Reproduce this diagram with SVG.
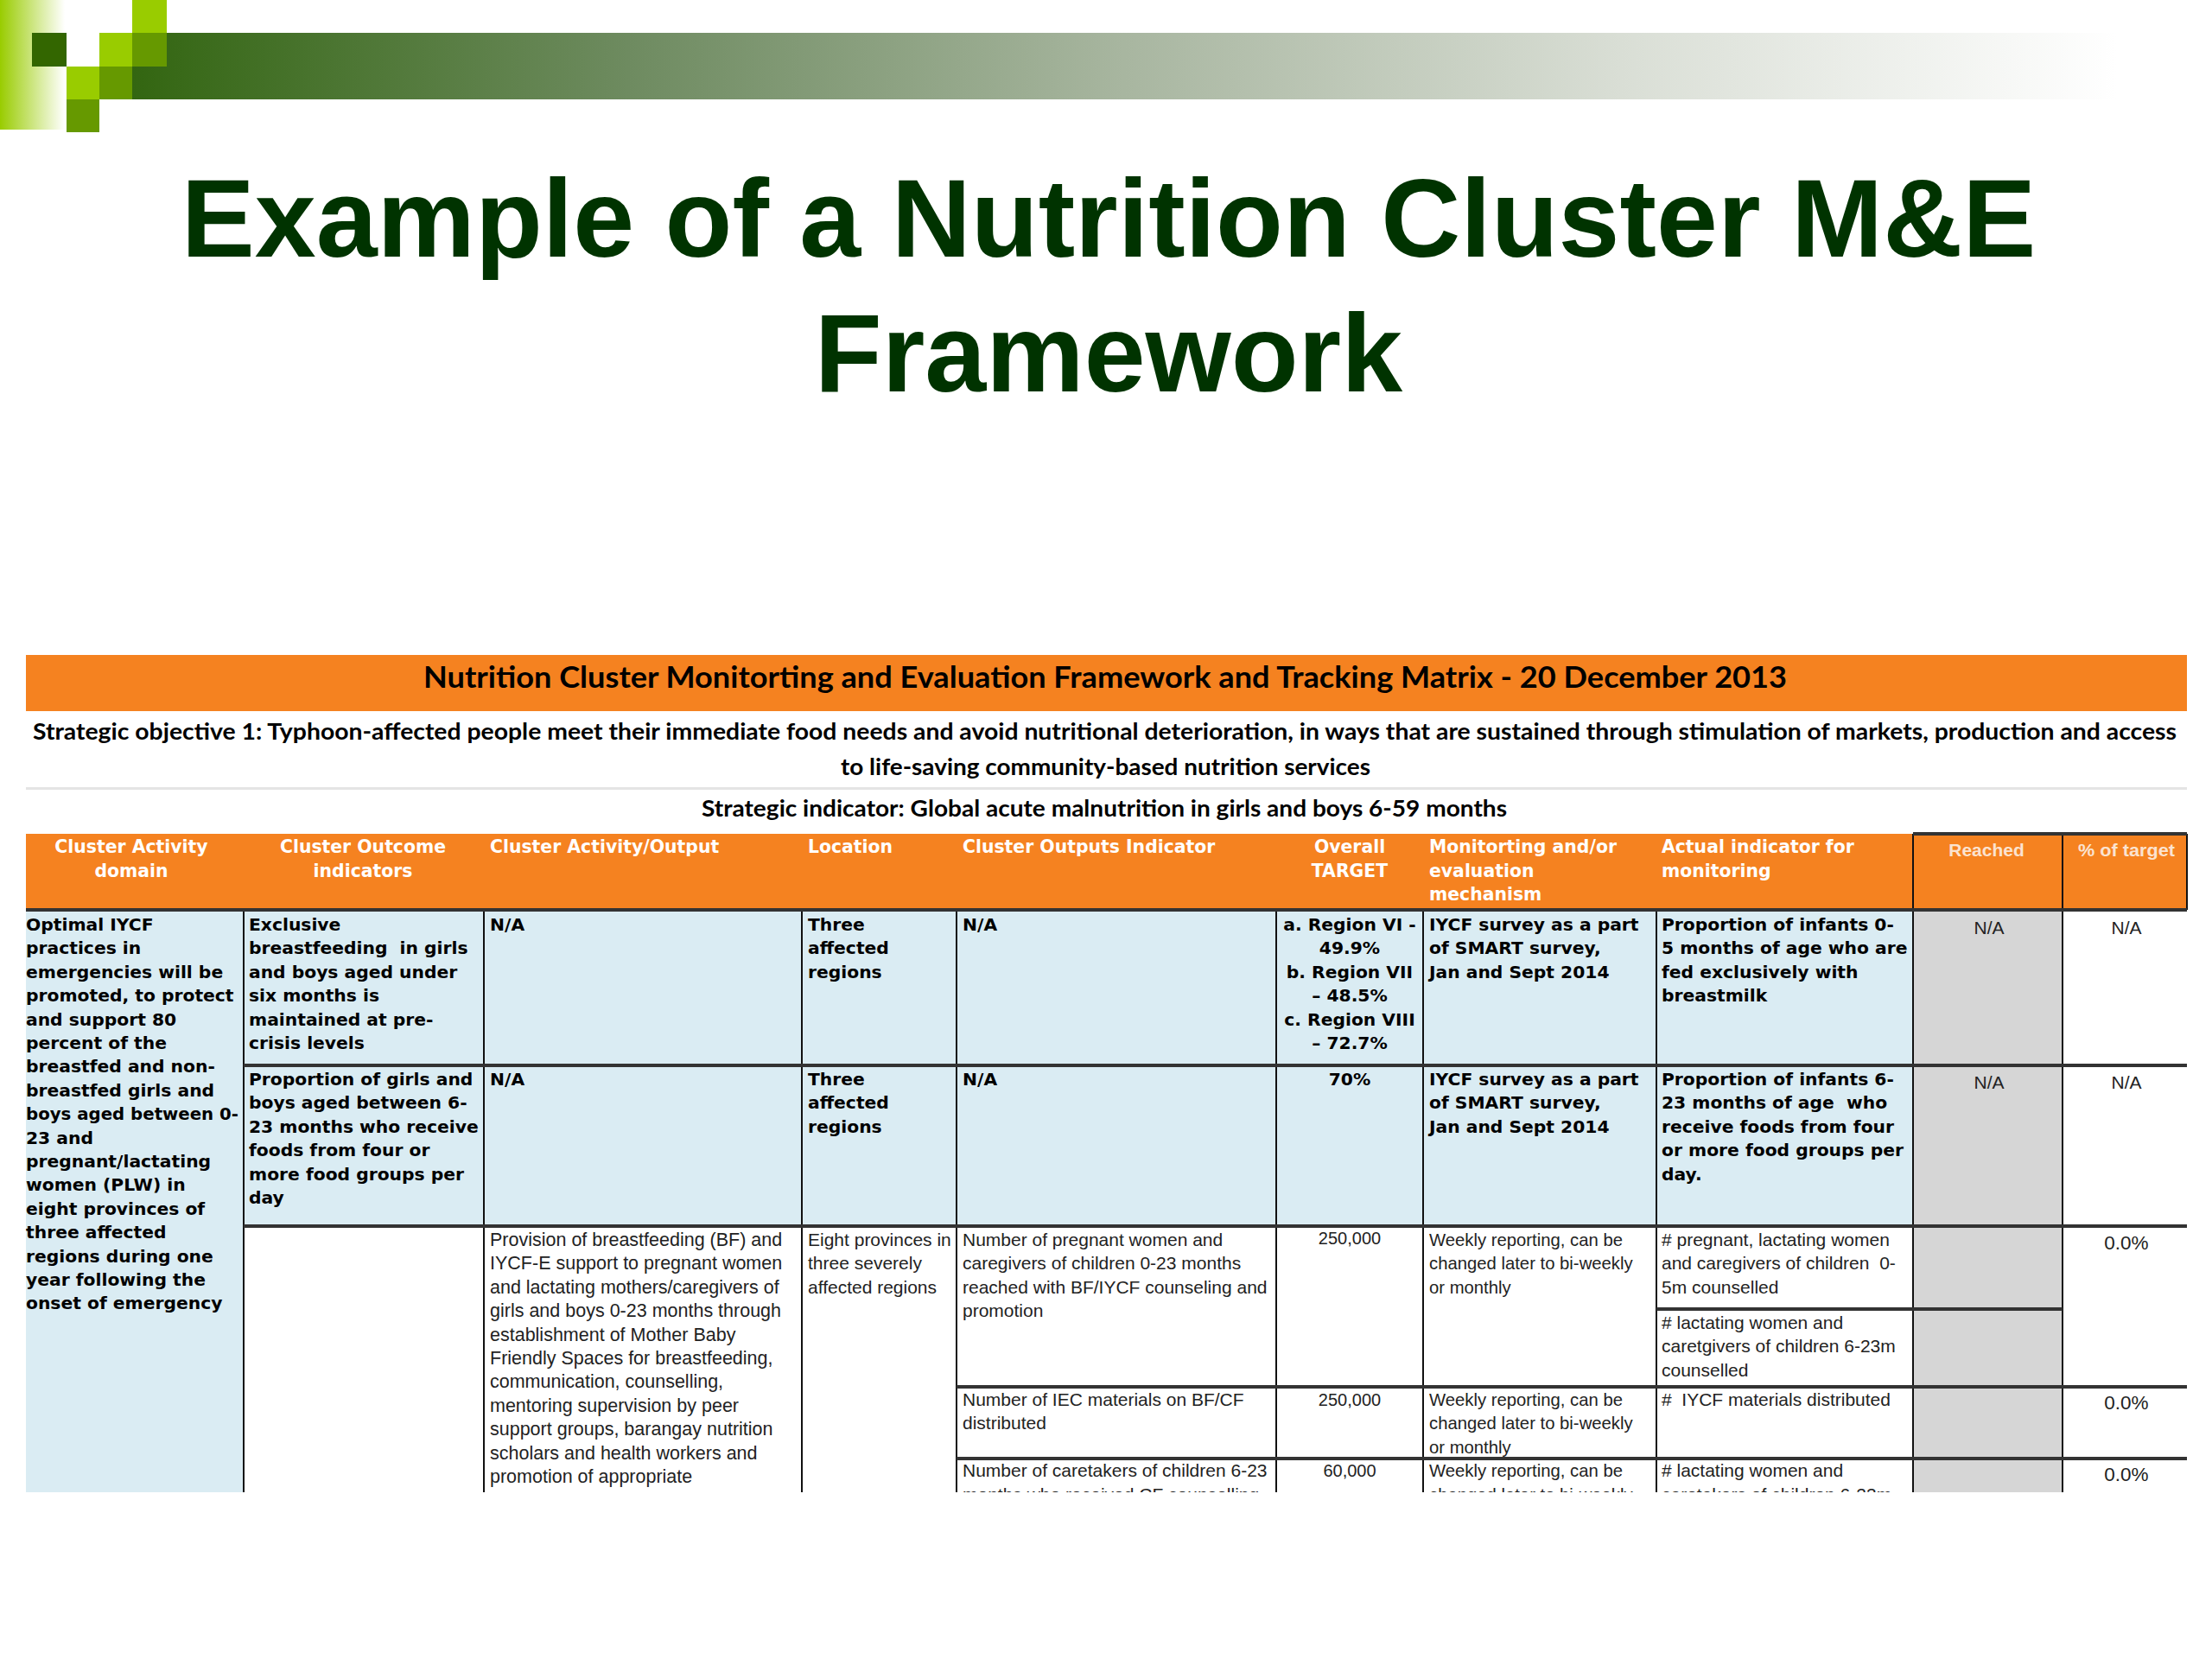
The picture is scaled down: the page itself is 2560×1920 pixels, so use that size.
<svg xmlns="http://www.w3.org/2000/svg" width="2560" height="1920" viewBox="0 0 2560 1920">
<style>
text{font-family:"Liberation Sans",Arial,sans-serif;fill:#000}
.t{font-size:127.5px;font-weight:700;fill:#003300;text-anchor:middle}
.c{font-family:Lato,"Liberation Sans",sans-serif;font-weight:700}
.h{font-family:"DejaVu Sans",sans-serif;font-size:20.4px;font-weight:700;fill:#fff}
.s{font-size:21px;font-weight:700;fill:#fbe3d0;text-anchor:middle}
.m{text-anchor:middle}
.b{font-family:"DejaVu Sans",sans-serif;font-size:20.3px;font-weight:700}
.r{font-size:21px;fill:#222}
.p{font-size:21.5px}
.w{font-size:20.3px}
.n{font-size:20px}
.z{font-size:22.5px}
.k{stroke:#111;stroke-width:2;fill:none}
.g{stroke:#333;stroke-width:4;fill:none}
</style>
<defs>
<linearGradient id="band" x1="153" x2="2450" y1="0" y2="0" gradientUnits="userSpaceOnUse"><stop offset="0" stop-color="#336611"/><stop offset=".25" stop-color="#6e8b60"/><stop offset=".5" stop-color="#a8b6a0"/><stop offset=".75" stop-color="#d9ded5"/><stop offset="1" stop-color="#fff"/></linearGradient>
<linearGradient id="side"><stop offset="0" stop-color="#99cc00"/><stop offset="1" stop-color="#fff"/></linearGradient>
<clipPath id="c"><rect x="0" y="1040" width="2560" height="687"/></clipPath>
</defs>
<rect width="2560" height="1920" fill="#fff"/>
<g id="decor">
<rect x="0" y="0" width="75" height="150" fill="url(#side)"/>
<rect x="153" y="38" width="2347" height="77" fill="url(#band)"/>
<rect x="37" y="38" width="40" height="39" fill="#336600"/>
<rect x="153" y="0" width="40" height="38" fill="#99cc00"/>
<rect x="115" y="38" width="38" height="39" fill="#99cc00"/>
<rect x="153" y="38" width="40" height="39" fill="#669900"/>
<rect x="77" y="77" width="38" height="38" fill="#99cc00"/>
<rect x="115" y="77" width="38" height="38" fill="#669900"/>
<rect x="77" y="115" width="38" height="38" fill="#669900"/>
</g>
<g id="title">
<text class="t" x="1283" y="297">Example of a Nutrition Cluster M&amp;E</text>
<text class="t" x="1283" y="453">Framework</text>
</g>
<g id="fills">
<rect x="30" y="758" width="2501" height="65" fill="#f58220"/>
<rect x="30" y="965" width="2501" height="88" fill="#f58220"/>
<rect x="30" y="1053" width="252" height="674" fill="#daecf3"/>
<rect x="282" y="1053" width="1932" height="366" fill="#daecf3"/>
<rect x="2214" y="1053" width="173" height="674" fill="#d6d6d6"/>
<rect x="30" y="911" width="2501" height="3" fill="#e4e4e4"/>
</g>
<g id="grid">
<path class="k" d="M282 1053V1727M560 1053V1727M928 1053V1727M1107 1053V1727M1477 1053V1727M1647 1053V1727M1917 1053V1727M2214 965V1727M2387 965V1727M2531 965V1053"/>
<path class="g" d="M2214 965H2531"/>
<path class="g" d="M30 1053H2531"/>
<path class="g" d="M282 1233H2531M282 1419H2531M1917 1515H2387M1107 1605H2531M1107 1688H2531"/>
</g>
<g id="banner-text">
<text class="c" x="490" y="796" font-size="34" textLength="1578" lengthAdjust="spacingAndGlyphs">Nutrition Cluster Monitorting and Evaluation Framework and Tracking Matrix - 20 December 2013</text>
<text class="c" x="38" y="856" font-size="27" textLength="2481" lengthAdjust="spacingAndGlyphs">Strategic objective 1: Typhoon-affected people meet their immediate food needs and avoid nutritional deterioration, in ways that are sustained through stimulation of markets, production and access</text>
<text class="c" x="973" y="897" font-size="27" textLength="613" lengthAdjust="spacingAndGlyphs">to life-saving community-based nutrition services</text>
<text class="c" x="812" y="945" font-size="27" textLength="932" lengthAdjust="spacingAndGlyphs">Strategic indicator: Global acute malnutrition in girls and boys 6-59 months</text>
</g>
<g id="header-text">
<text class="h m" x="152" y="987">Cluster Activity</text><text class="h m" x="152" y="1015">domain</text>
<text class="h m" x="420" y="987">Cluster Outcome</text><text class="h m" x="420" y="1015">indicators</text>
<text class="h" x="567" y="987">Cluster Activity/Output</text>
<text class="h" x="935" y="987">Location</text>
<text class="h" x="1114" y="987">Cluster Outputs Indicator</text>
<text class="h m" x="1562" y="987">Overall</text><text class="h m" x="1562" y="1015">TARGET</text>
<text class="h" x="1654" y="987">Monitorting and/or</text><text class="h" x="1654" y="1015">evaluation</text><text class="h" x="1654" y="1042">mechanism</text>
<text class="h" x="1923" y="987">Actual indicator for</text><text class="h" x="1923" y="1015">monitoring</text>
<text class="s" x="2299" y="991">Reached</text>
<text class="s" x="2461" y="991" textLength="112" lengthAdjust="spacingAndGlyphs">% of target</text>
</g>
<g id="row1">
<text class="b" x="30" y="1077">Optimal IYCF</text>
<text class="b" x="30" y="1104">practices in</text>
<text class="b" x="30" y="1132">emergencies will be</text>
<text class="b" x="30" y="1159">promoted, to protect</text>
<text class="b" x="30" y="1187">and support 80</text>
<text class="b" x="30" y="1214">percent of the</text>
<text class="b" x="30" y="1241">breastfed and non-</text>
<text class="b" x="30" y="1269">breastfed girls and</text>
<text class="b" x="30" y="1296" textLength="246" lengthAdjust="spacingAndGlyphs">boys aged between 0-</text>
<text class="b" x="30" y="1324">23 and</text>
<text class="b" x="30" y="1351">pregnant/lactating</text>
<text class="b" x="30" y="1378">women (PLW) in</text>
<text class="b" x="30" y="1406">eight provinces of</text>
<text class="b" x="30" y="1433">three affected</text>
<text class="b" x="30" y="1461">regions during one</text>
<text class="b" x="30" y="1488">year following the</text>
<text class="b" x="30" y="1515">onset of emergency</text>
<text class="b" x="288" y="1077">Exclusive</text>
<text class="b" x="288" y="1104" xml:space="preserve">breastfeeding  in girls</text>
<text class="b" x="288" y="1132">and boys aged under</text>
<text class="b" x="288" y="1159">six months is</text>
<text class="b" x="288" y="1187">maintained at pre-</text>
<text class="b" x="288" y="1214">crisis levels</text>
<text class="b" x="567" y="1077">N/A</text>
<text class="b" x="935" y="1077">Three</text><text class="b" x="935" y="1104">affected</text><text class="b" x="935" y="1132">regions</text>
<text class="b" x="1114" y="1077">N/A</text>
<text class="b m" x="1562" y="1077">a. Region VI -</text>
<text class="b m" x="1562" y="1104">49.9%</text>
<text class="b m" x="1562" y="1132">b. Region VII</text>
<text class="b m" x="1562" y="1159">– 48.5%</text>
<text class="b m" x="1562" y="1187">c. Region VIII</text>
<text class="b m" x="1562" y="1214">– 72.7%</text>
<text class="b" x="1654" y="1077">IYCF survey as a part</text>
<text class="b" x="1654" y="1104">of SMART survey,</text>
<text class="b" x="1654" y="1132">Jan and Sept 2014</text>
<text class="b" x="1923" y="1077">Proportion of infants 0-</text>
<text class="b" x="1923" y="1104">5 months of age who are</text>
<text class="b" x="1923" y="1132">fed exclusively with</text>
<text class="b" x="1923" y="1159">breastmilk</text>
<text class="r m" x="2302" y="1081">N/A</text>
<text class="r m" x="2461" y="1081">N/A</text>
</g>
<g id="row2">
<text class="b" x="288" y="1256">Proportion of girls and</text>
<text class="b" x="288" y="1283">boys aged between 6-</text>
<text class="b" x="288" y="1311">23 months who receive</text>
<text class="b" x="288" y="1338">foods from four or</text>
<text class="b" x="288" y="1366">more food groups per</text>
<text class="b" x="288" y="1393">day</text>
<text class="b" x="567" y="1256">N/A</text>
<text class="b" x="935" y="1256">Three</text><text class="b" x="935" y="1283">affected</text><text class="b" x="935" y="1311">regions</text>
<text class="b" x="1114" y="1256">N/A</text>
<text class="b m" x="1562" y="1256">70%</text>
<text class="b" x="1654" y="1256">IYCF survey as a part</text>
<text class="b" x="1654" y="1283">of SMART survey,</text>
<text class="b" x="1654" y="1311">Jan and Sept 2014</text>
<text class="b" x="1923" y="1256">Proportion of infants 6-</text>
<text class="b" x="1923" y="1283" xml:space="preserve">23 months of age  who</text>
<text class="b" x="1923" y="1311">receive foods from four</text>
<text class="b" x="1923" y="1338">or more food groups per</text>
<text class="b" x="1923" y="1366">day.</text>
<text class="r m" x="2302" y="1260">N/A</text>
<text class="r m" x="2461" y="1260">N/A</text>
</g>
<g id="row3" clip-path="url(#c)">
<text class="r p" x="567" y="1442">Provision of breastfeeding (BF) and</text>
<text class="r p" x="567" y="1469">IYCF-E support to pregnant women</text>
<text class="r p" x="567" y="1497">and lactating mothers/caregivers of</text>
<text class="r p" x="567" y="1524">girls and boys 0-23 months through</text>
<text class="r p" x="567" y="1552">establishment of Mother Baby</text>
<text class="r p" x="567" y="1579">Friendly Spaces for breastfeeding,</text>
<text class="r p" x="567" y="1606">communication, counselling,</text>
<text class="r p" x="567" y="1634">mentoring supervision by peer</text>
<text class="r p" x="567" y="1661">support groups, barangay nutrition</text>
<text class="r p" x="567" y="1689">scholars and health workers and</text>
<text class="r p" x="567" y="1716">promotion of appropriate</text>
<text class="r" x="935" y="1442">Eight provinces in</text>
<text class="r" x="935" y="1469">three severely</text>
<text class="r" x="935" y="1497">affected regions</text>
<text class="r" x="1114" y="1442">Number of pregnant women and</text>
<text class="r" x="1114" y="1469">caregivers of children 0-23 months</text>
<text class="r" x="1114" y="1497">reached with BF/IYCF counseling and</text>
<text class="r" x="1114" y="1524">promotion</text>
<text class="r n m" x="1562" y="1440">250,000</text>
<text class="r w" x="1654" y="1442">Weekly reporting, can be</text>
<text class="r w" x="1654" y="1469">changed later to bi-weekly</text>
<text class="r w" x="1654" y="1497">or monthly</text>
<text class="r" x="1923" y="1442"># pregnant, lactating women</text>
<text class="r" x="1923" y="1469" xml:space="preserve">and caregivers of children  0-</text>
<text class="r" x="1923" y="1497">5m counselled</text>
<text class="r" x="1923" y="1538"># lactating women and</text>
<text class="r" x="1923" y="1565">caretgivers of children 6-23m</text>
<text class="r" x="1923" y="1593">counselled</text>
<text class="r z m" x="2461" y="1446">0.0%</text>
<text class="r" x="1114" y="1627">Number of IEC materials on BF/CF</text>
<text class="r" x="1114" y="1654">distributed</text>
<text class="r n m" x="1562" y="1627">250,000</text>
<text class="r w" x="1654" y="1627">Weekly reporting, can be</text>
<text class="r w" x="1654" y="1654">changed later to bi-weekly</text>
<text class="r w" x="1654" y="1682">or monthly</text>
<text class="r" x="1923" y="1627" xml:space="preserve">#  IYCF materials distributed</text>
<text class="r z m" x="2461" y="1631">0.0%</text>
<text class="r" x="1114" y="1709">Number of caretakers of children 6-23</text>
<text class="r" x="1114" y="1737">months who received CF counselling</text>
<text class="r n m" x="1562" y="1709">60,000</text>
<text class="r w" x="1654" y="1709">Weekly reporting, can be</text>
<text class="r w" x="1654" y="1737">changed later to bi-weekly</text>
<text class="r" x="1923" y="1709"># lactating women and</text>
<text class="r" x="1923" y="1737">caretakers of children 6-23m</text>
<text class="r z m" x="2461" y="1714">0.0%</text>
</g>
</svg>
